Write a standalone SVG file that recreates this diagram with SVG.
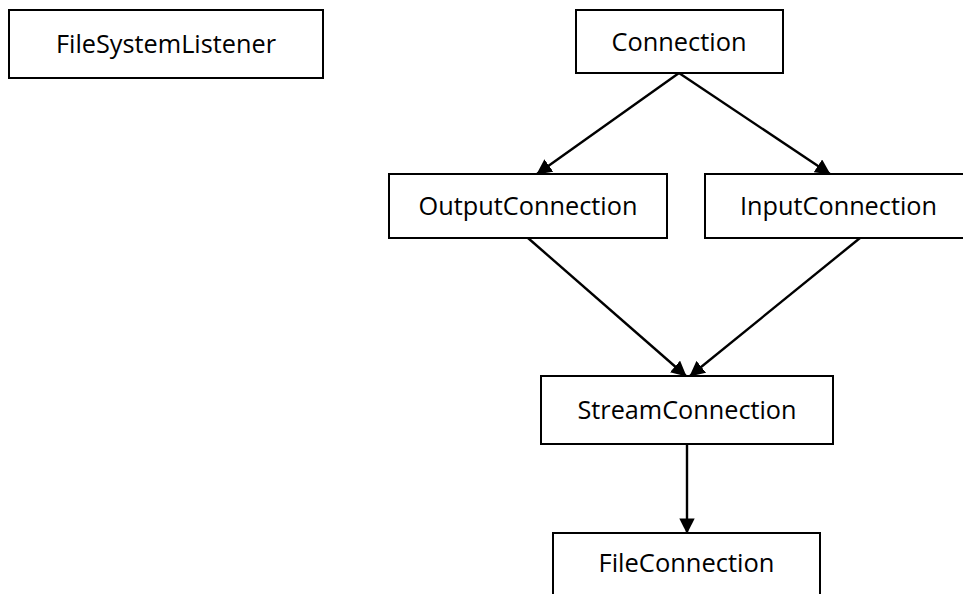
<svg xmlns="http://www.w3.org/2000/svg" width="963" height="594" viewBox="0 0 963 594">
  <style>
    .box { fill: #ffffff; stroke: #000000; stroke-width: 2; }
    .label { font-family: "Open Sans", "Noto Sans", "Liberation Sans", sans-serif; font-size: 25.5px; fill: #000000; text-anchor: middle; dominant-baseline: central; }
    .edge { stroke: #000000; stroke-width: 2.4; fill: none; marker-end: url(#arrow); }
  </style>
  <defs>
    <marker id="arrow" viewBox="0 0 10 10" refX="9.5" refY="5" markerWidth="6.4" markerHeight="6.4" markerUnits="strokeWidth" orient="auto">
      <path d="M0,0 L10,5 L0,10 z" fill="#000000"/>
    </marker>
  </defs>
  <rect width="963" height="594" fill="#ffffff"/>

  <!-- inheritance arrows -->
  <g id="connectors">
    <line class="edge" x1="679" y1="73" x2="537" y2="174"/>
    <line class="edge" x1="679" y1="73" x2="830" y2="174"/>
    <line class="edge" x1="528" y1="238" x2="686" y2="376"/>
    <line class="edge" x1="860" y1="238" x2="690" y2="376"/>
    <line class="edge" x1="687" y1="444" x2="687" y2="533"/>
  </g>

  <g id="FileSystemListener">
    <rect class="box" x="9" y="10" width="314" height="68"/>
    <text class="label" x="166" y="43" textLength="220" lengthAdjust="spacingAndGlyphs">FileSystemListener</text>
  </g>
  <g id="Connection">
    <rect class="box" x="576" y="10" width="207" height="63"/>
    <text class="label" x="679" y="40.5" textLength="135" lengthAdjust="spacingAndGlyphs">Connection</text>
  </g>
  <g id="OutputConnection">
    <rect class="box" x="389" y="174" width="278" height="64"/>
    <text class="label" x="528" y="205" textLength="219" lengthAdjust="spacingAndGlyphs">OutputConnection</text>
  </g>
  <g id="InputConnection">
    <rect class="box" x="705" y="174" width="268" height="64"/>
    <text class="label" x="838.5" y="205" textLength="197" lengthAdjust="spacingAndGlyphs">InputConnection</text>
  </g>
  <g id="StreamConnection">
    <rect class="box" x="541" y="376" width="292" height="68"/>
    <text class="label" x="687" y="409" textLength="219" lengthAdjust="spacingAndGlyphs">StreamConnection</text>
  </g>
  <g id="FileConnection">
    <rect class="box" x="553" y="533" width="267" height="70"/>
    <text class="label" x="686.5" y="562" textLength="176" lengthAdjust="spacingAndGlyphs">FileConnection</text>
  </g>
</svg>
